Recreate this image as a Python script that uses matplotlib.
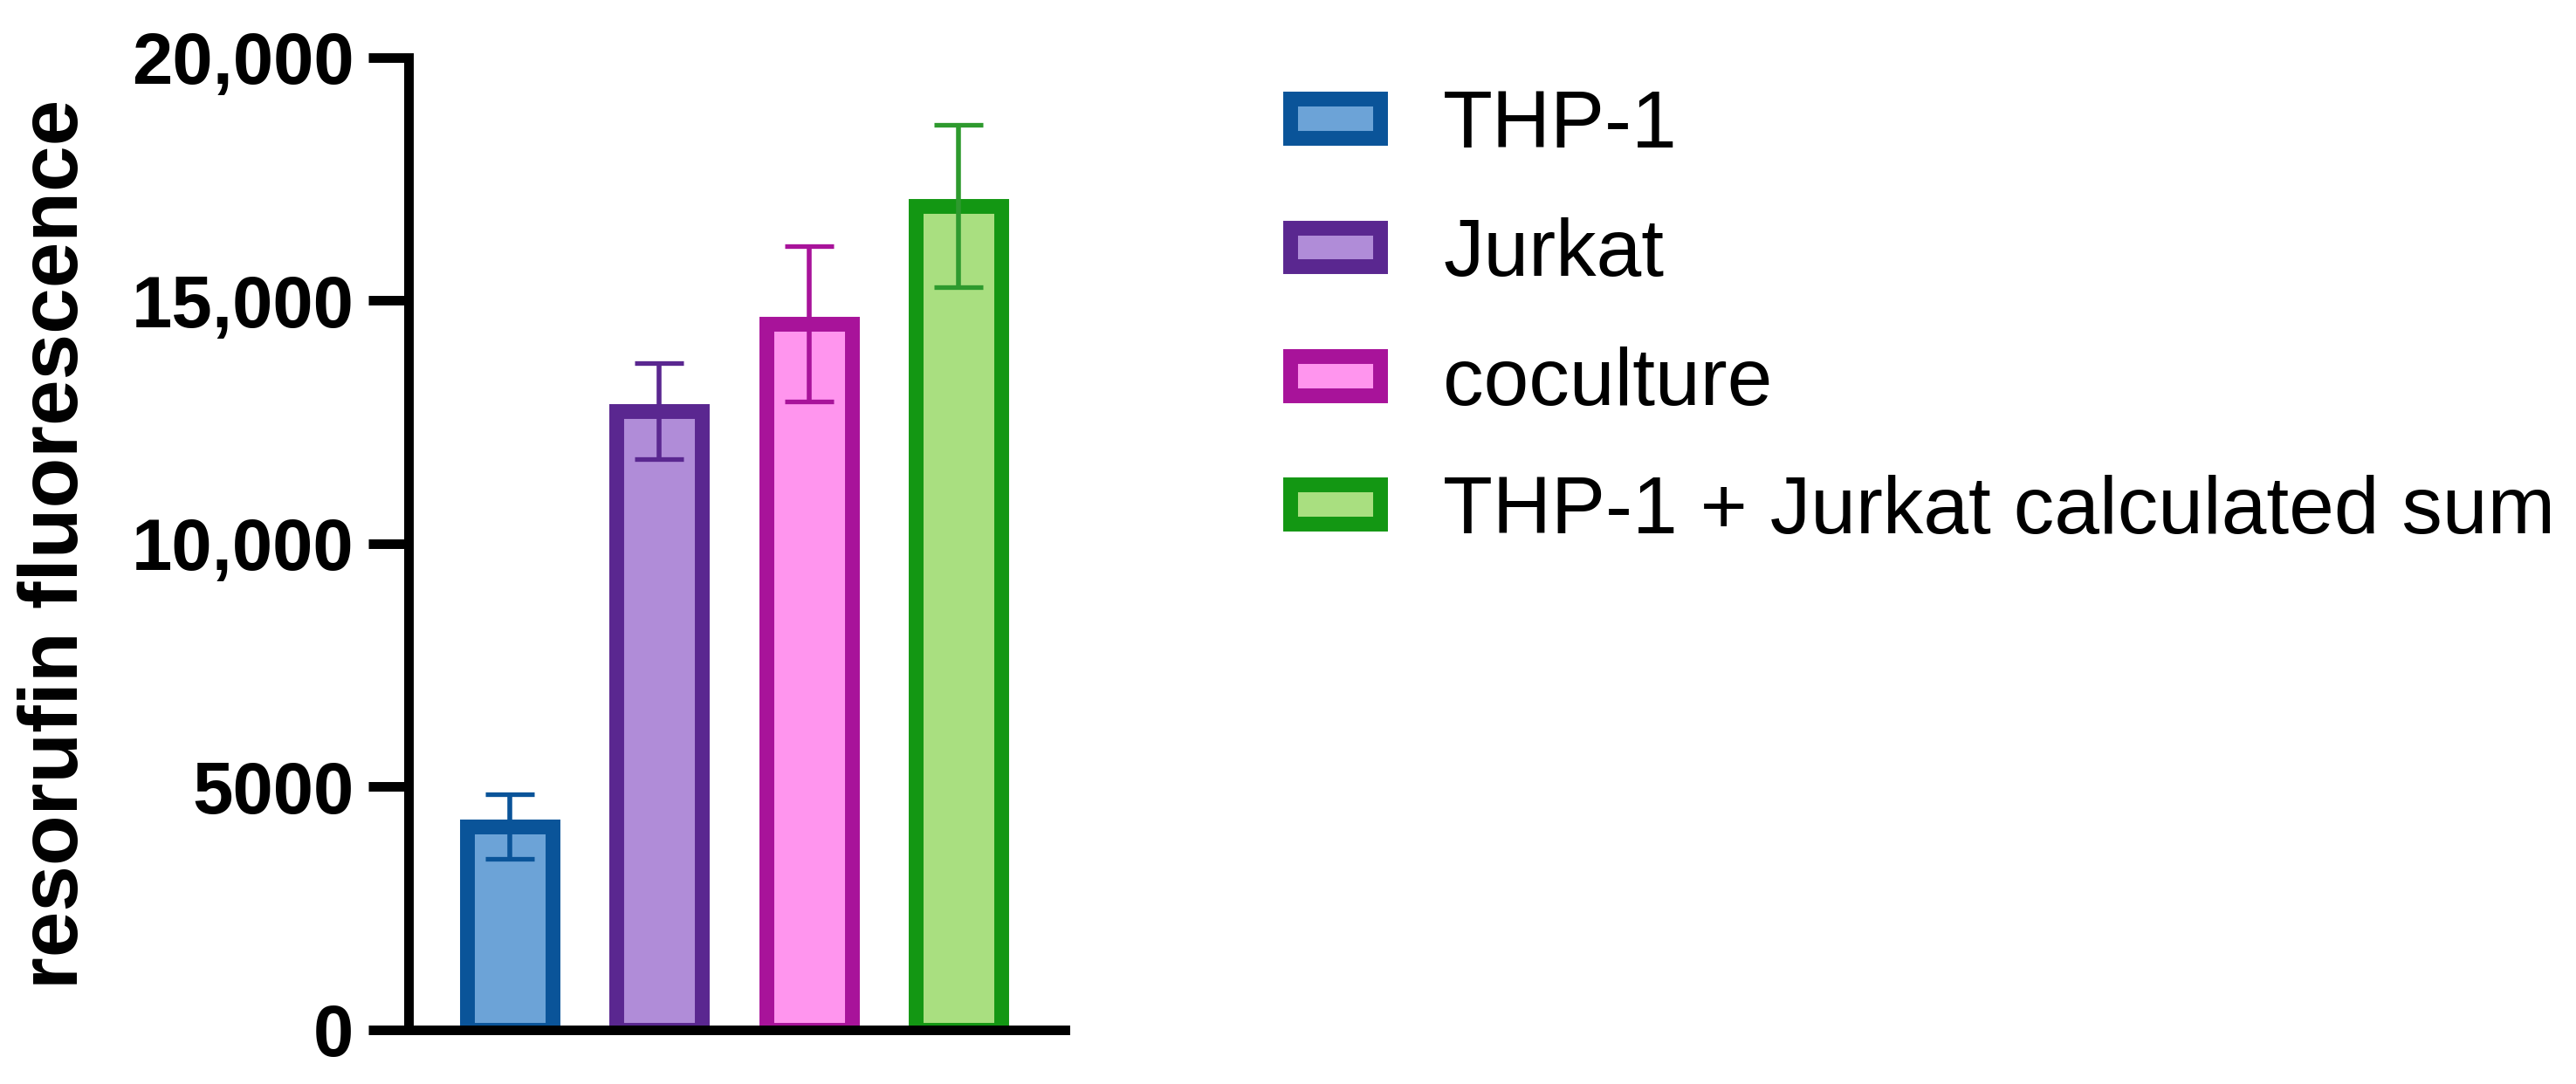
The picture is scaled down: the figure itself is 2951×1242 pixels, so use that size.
import matplotlib
matplotlib.use("Agg")
import matplotlib.pyplot as plt
from matplotlib.ticker import FuncFormatter

# data
groups = ["THP-1", "Jurkat", "coculture", "THP-1 + Jurkat calculated sum"]
means = [4180, 12730, 14520, 16950]
errs = [670, 990, 1600, 1670]
yticks = [0, 5000, 10000, 15000, 20000]

# styling
edge_colors = ["#0A5499", "#5A2790", "#A8139A", "#139713"]
fill_colors = ["#6CA3D7", "#B08CD8", "#FF95EE", "#A9DF80"]
err_colors = ["#0A5499", "#5A2790", "#A8139A", "#2E9A2E"]

plt.rcParams["font.family"] = ["Liberation Sans", "DejaVu Sans"]

fig = plt.figure(figsize=(29.51, 12.42), dpi=100)
ax = fig.add_axes([0.15859, 0.04992, 0.25483, 0.89694])

handles = []
for i in range(len(groups)):
	b = ax.bar(i, means[i], width=0.573, color=fill_colors[i],
		edgecolor=edge_colors[i], linewidth=12.2, label=groups[i], zorder=2)
	handles.append(b)
	ax.errorbar(i, means[i], yerr=errs[i], fmt="none", ecolor=err_colors[i],
		elinewidth=4, capsize=20, capthick=3.8, zorder=3)

ax.set_xlim(-0.681, 3.716)
ax.set_ylim(0, 20000)
ax.set_yticks(yticks)

def fmt(v, pos):
	if v >= 10000:
		return "{:,}".format(int(v))
	return str(int(v))
ax.yaxis.set_major_formatter(FuncFormatter(fmt))

ax.set_xticks([])
for s in ["top", "right"]:
	ax.spines[s].set_visible(False)
for s in ["left", "bottom"]:
	ax.spines[s].set_linewidth(7.9)
	ax.spines[s].set_zorder(4)
ax.tick_params(axis="y", width=7.9, length=33, pad=12, labelsize=60)
for t in ax.get_yticklabels():
	t.set_fontweight("bold")

ax.set_ylabel("resorufin fluorescence", fontsize=68, fontweight="bold")
ax.yaxis.set_label_coords(-0.478, 0.5)

ax.legend(handles=handles, loc="upper left", bbox_to_anchor=(0.5009, 0.918),
	bbox_transform=fig.transFigure, frameon=False, fontsize=67,
	handlelength=1.10, handleheight=0.36, handletextpad=0.78,
	labelspacing=0.66, borderpad=0, borderaxespad=0)

fig.savefig("out.png", dpi=100)
